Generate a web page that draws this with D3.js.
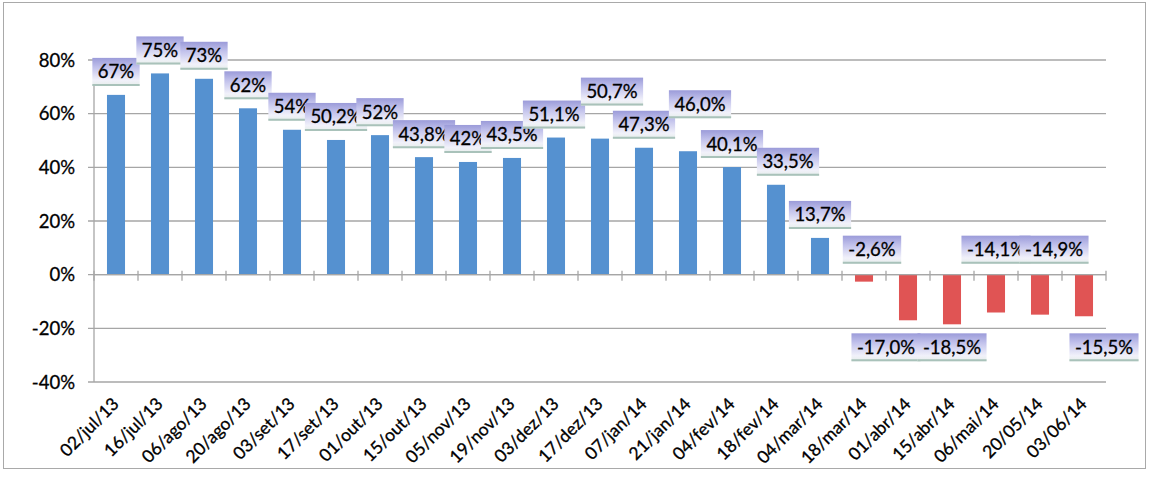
<!DOCTYPE html>
<html>
<head>
<meta charset="utf-8">
<script src="https://cdn.jsdelivr.net/npm/d3@7"></script>
<style>
  body { margin: 0; background: #fff; }
  svg { display: block; font-family: Lato, "Open Sans", sans-serif; }
  svg text { stroke: #000; stroke-width: 0.3px; }
</style>
</head>
<body>
<div id="chart"></div>
<script>
// data
const dates = ["02/jul/13", "16/jul/13", "06/ago/13", "20/ago/13", "03/set/13", "17/set/13",
  "01/out/13", "15/out/13", "05/nov/13", "19/nov/13", "03/dez/13", "17/dez/13", "07/jan/14",
  "21/jan/14", "04/fev/14", "18/fev/14", "04/mar/14", "18/mar/14", "01/abr/14", "15/abr/14",
  "06/mai/14", "20/05/14", "03/06/14"];
const values = [67, 75, 73, 62, 54, 50.2, 52, 43.8, 42, 43.5, 51.1, 50.7, 47.3, 46.0, 40.1,
  33.5, 13.7, -2.6, -17.0, -18.5, -14.1, -14.9, -15.5];
const labels = ["67%", "75%", "73%", "62%", "54%", "50,2%", "52%", "43,8%", "42%", "43,5%",
  "51,1%", "50,7%", "47,3%", "46,0%", "40,1%", "33,5%", "13,7%", "-2,6%", "-17,0%", "-18,5%",
  "-14,1%", "-14,9%", "-15,5%"];
const yTicks = [-40, -20, 0, 20, 40, 60, 80];

// hand-moved data labels (as in the original sheet)
// place: "end" = over the bar end, "up" = above zero line, "down" = under the -20% line
const labelPlace = ["end", "end", "end", "end", "end", "end", "end", "end", "end", "end",
  "end", "end", "end", "end", "end", "end", "end", "up", "down", "down", "up", "up", "down"];
const labelDx = [0, 0, 0, 0, 0, 0, 0, 0, 0, 0, -2, 12, 0, 12, 0, 12, 0, 8, -22, 0, 0, 14, 20];
const labelLift = [0, 0, 0, 0, 0, 0, 0, 0, 0, 0, 0, 24, 0, 24, 0, 0, 0, 0, 0, 0, 0, 0, 0];

const width = 1151, height = 481;
const margin = { top: 60, right: 45, bottom: 99, left: 94 };

const svg = d3.select("#chart").append("svg")
  .attr("width", width)
  .attr("height", height);

// label box gradient
const defs = svg.append("defs");
const grad = defs.append("linearGradient")
  .attr("id", "boxGrad")
  .attr("x1", 0).attr("y1", 0).attr("x2", 0).attr("y2", 1);
grad.append("stop").attr("offset", "0%").attr("stop-color", "#9b9bd9");
grad.append("stop").attr("offset", "35%").attr("stop-color", "#c3c3ec");
grad.append("stop").attr("offset", "80%").attr("stop-color", "#f1f1fa");
grad.append("stop").attr("offset", "100%").attr("stop-color", "#e6eeea");

// chart frame
svg.append("rect")
  .attr("x", 3.5).attr("y", 2.5)
  .attr("width", 1142).attr("height", 466)
  .attr("fill", "#fff")
  .attr("stroke", "#a9a9a9");

const x = d3.scaleBand()
  .domain(dates)
  .range([margin.left, width - margin.right])
  .paddingInner(0.59)
  .paddingOuter(0.295);

const y = d3.scaleLinear()
  .domain([-40, 80])
  .range([height - margin.bottom, margin.top]);

const step = x.step();
const x0 = margin.left, x1 = width - margin.right;

// gridlines with left ticks
svg.append("g")
  .selectAll("line")
  .data(yTicks)
  .join("line")
  .attr("x1", x0 - 6).attr("x2", x1)
  .attr("y1", (d) => y(d)).attr("y2", (d) => y(d))
  .attr("stroke", "#a6a6a6")
  .attr("stroke-width", 1.3);

// vertical axis line
svg.append("line")
  .attr("x1", x0).attr("x2", x0)
  .attr("y1", y(80)).attr("y2", y(-40))
  .attr("stroke", "#a6a6a6")
  .attr("stroke-width", 1.3);

// y tick labels
svg.append("g")
  .selectAll("text")
  .data(yTicks)
  .join("text")
  .attr("x", 75)
  .attr("y", (d) => y(d) + 6.5)
  .attr("text-anchor", "end")
  .style("font-size", "18.5px")
  .style("fill", "#000")
  .text((d) => d + "%");

// bars
svg.append("g")
  .selectAll("rect")
  .data(values)
  .join("rect")
  .attr("x", (d, i) => x(dates[i]))
  .attr("width", x.bandwidth())
  .attr("y", (d) => y(Math.max(0, d)))
  .attr("height", (d) => Math.abs(y(d) - y(0)))
  .attr("fill", (d) => (d >= 0 ? "#5591d0" : "#e05454"));

// category ticks on the zero line
svg.append("line")
  .attr("x1", x0).attr("x2", x1)
  .attr("y1", y(0)).attr("y2", y(0))
  .attr("stroke", "#a6a6a6")
  .attr("stroke-width", 1.3);
svg.append("g")
  .selectAll("line")
  .data(d3.range(dates.length + 1))
  .join("line")
  .attr("x1", (i) => x0 + i * step).attr("x2", (i) => x0 + i * step)
  .attr("y1", y(0) - 4).attr("y2", y(0) + 6)
  .attr("stroke", "#a6a6a6")
  .attr("stroke-width", 1.3);

// x labels, rotated
svg.append("g")
  .selectAll("text")
  .data(dates)
  .join("text")
  .attr("transform", (d) => `translate(${x(d) + x.bandwidth() / 2 + 4}, 405) rotate(-45)`)
  .attr("text-anchor", "end")
  .style("font-size", "17.5px")
  .style("fill", "#000")
  .text((d) => d);

// data labels in gradient boxes
const boxH = 28, pad = 5.5;
const lab = svg.append("g");
values.forEach((v, i) => {
  const g = lab.append("g");
  const t = g.append("text")
    .style("font-size", "18.5px")
    .style("fill", "#000")
    .attr("text-anchor", "middle")
    .text(labels[i]);
  const w = t.node().getComputedTextLength() + pad * 2;
  const cx = x(dates[i]) + x.bandwidth() / 2 + labelDx[i];
  let top;
  if (labelPlace[i] === "up") top = y(0) - 11 - boxH;
  else if (labelPlace[i] === "down") top = y(-20) + 5;
  else top = y(v) - 9 - boxH - labelLift[i];

  g.insert("rect", "text")
    .attr("x", cx - w / 2)
    .attr("y", top)
    .attr("width", w)
    .attr("height", boxH)
    .attr("fill", "url(#boxGrad)");
  g.insert("line", "text")
    .attr("x1", cx - w / 2).attr("x2", cx + w / 2)
    .attr("y1", top + boxH - 1).attr("y2", top + boxH - 1)
    .attr("stroke", "#a9c2ba")
    .attr("stroke-width", 2);
  t.attr("x", cx).attr("y", top + boxH / 2 + 6.5);
});
</script>
</body>
</html>
